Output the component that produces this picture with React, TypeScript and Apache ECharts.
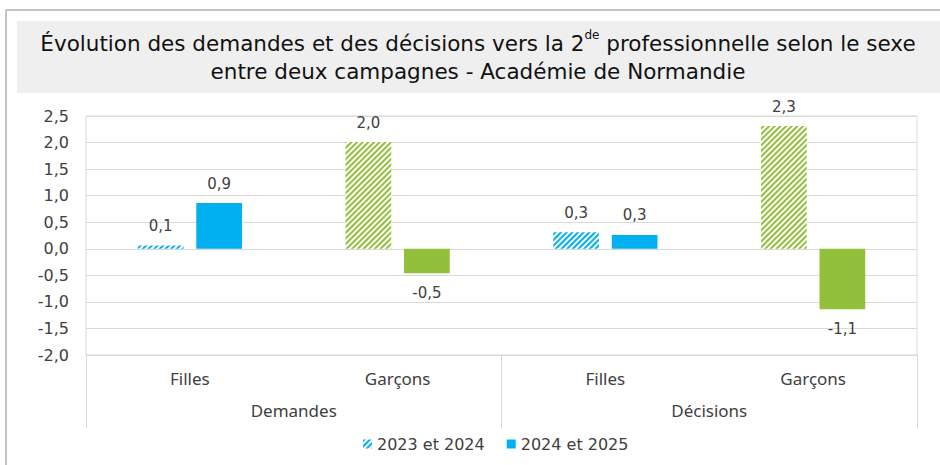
import React, { useEffect, useRef } from "react";
import * as echarts from "echarts";

const categories = ["Filles", "Garçons", "Filles", "Garçons"];
const groups = ["Demandes", "Décisions"];
const seriesNames = ["2023 et 2024", "2024 et 2025"];
const values2324 = [0.06, 2.01, 0.31, 2.31];
const values2425 = [0.86, -0.46, 0.26, -1.14];
const yTicks = { min: -2, max: 2.5, interval: 0.5 };
const titleLine1 = "Évolution des demandes et des décisions vers la 2{sup|de} professionnelle selon le sexe";
const titleLine2 = "entre deux campagnes - Académie de Normandie";

const BLUE = "#00B0F0";
const GREEN = "#92C03A";
const catColors = [BLUE, GREEN, BLUE, GREEN];

const fmt = (v: number) => v.toFixed(1).replace(".", ",");

const hatch = (color: string) => ({
  symbol: "rect",
  symbolSize: 1,
  dashArrayX: [1, 0],
  dashArrayY: [1.6, 1.6],
  rotation: -Math.PI / 4,
  color,
});

export default function App() {
  const ref = useRef<HTMLDivElement>(null);
  useEffect(() => {
    if (!ref.current) return;
    const chart = echarts.init(ref.current, null, { renderer: "svg" });
    const numFont = "'DejaVu Sans', sans-serif";
    const catFont = "'Noto Sans', sans-serif";
    const labelCommon = {
      show: true,
      fontFamily: numFont,
      fontSize: 15,
      color: "#404040",
      distance: 12,
    };
    chart.setOption({
      animation: false,
      backgroundColor: "#ffffff",
      graphic: [
        { type: "line", shape: { x1: 6, y1: 10, x2: 940, y2: 10 }, style: { stroke: "#c3c3c3", lineWidth: 2 } },
        { type: "line", shape: { x1: 6, y1: 10, x2: 6, y2: 465 }, style: { stroke: "#c3c3c3", lineWidth: 2 } },
        { type: "rect", shape: { x: 17, y: 21, width: 923, height: 72 }, style: { fill: "#efefef" } },
        {
          type: "text",
          x: 478,
          y: 57,
          style: {
            text: titleLine1 + "\n" + titleLine2,
            align: "center",
            verticalAlign: "middle",
            fontFamily: "'DejaVu Sans', sans-serif",
            fontSize: 21.5,
            lineHeight: 28,
            fill: "#111111",
            rich: {
              sup: { fontSize: 12, fontFamily: "'DejaVu Sans', sans-serif", verticalAlign: "top", lineHeight: 28, padding: [0, 0, 8, 0], fill: "#111111" },
            },
          },
        },
      ],
      legend: {
        data: seriesNames,
        left: 358,
        top: 431,
        itemWidth: 9,
        itemHeight: 9,
        itemGap: 22,
        icon: "rect",
        textStyle: { fontFamily: numFont, fontSize: 16, color: "#404040" },
      },
      grid: {
        left: 86,
        right: 23,
        top: 116,
        bottom: 110,
        show: true,
        borderColor: "#d9d9d9",
        borderWidth: 1,
      },
      xAxis: [
        {
          type: "category",
          data: categories,
          position: "bottom",
          axisLine: { show: false },
          axisTick: { show: false },
          axisLabel: { margin: 15, fontFamily: catFont, fontSize: 17, color: "#404040" },
        },
        {
          type: "category",
          data: groups,
          position: "bottom",
          axisLine: { show: false },
          axisTick: { show: true, length: 73, lineStyle: { color: "#d9d9d9", width: 1 } },
          axisLabel: { margin: 47, fontFamily: catFont, fontSize: 17, color: "#404040" },
        },
      ],
      yAxis: {
        type: "value",
        min: yTicks.min,
        max: yTicks.max,
        interval: yTicks.interval,
        axisLine: { show: false },
        axisTick: { show: false },
        axisLabel: { margin: 17, fontFamily: numFont, fontSize: 16, color: "#404040", formatter: (v: number) => fmt(v) },
        splitLine: { lineStyle: { color: "#d9d9d9", width: 1 } },
      },
      series: [
        {
          name: seriesNames[0],
          type: "bar",
          xAxisIndex: 0,
          barWidth: "22%",
          barGap: "28%",
          itemStyle: { color: "#ffffff", decal: hatch(BLUE) },
          data: values2324.map((v, i) => ({
            value: v,
            itemStyle: { color: "#ffffff", decal: hatch(catColors[i]) },
            label: { ...labelCommon, position: v >= 0 ? "top" : "bottom", formatter: () => fmt(v) },
          })),
        },
        {
          name: seriesNames[1],
          type: "bar",
          xAxisIndex: 0,
          barWidth: "22%",
          barGap: "28%",
          itemStyle: { color: BLUE },
          data: values2425.map((v, i) => ({
            value: v,
            itemStyle: { color: catColors[i] },
            label: { ...labelCommon, position: v >= 0 ? "top" : "bottom", formatter: () => fmt(v) },
          })),
        },
      ],
    });
    return () => chart.dispose();
  }, []);
  return (
    <div
      ref={ref}
      style={{ position: "absolute", left: 0, top: 0, width: 940, height: 465 }}
    />
  );
}
